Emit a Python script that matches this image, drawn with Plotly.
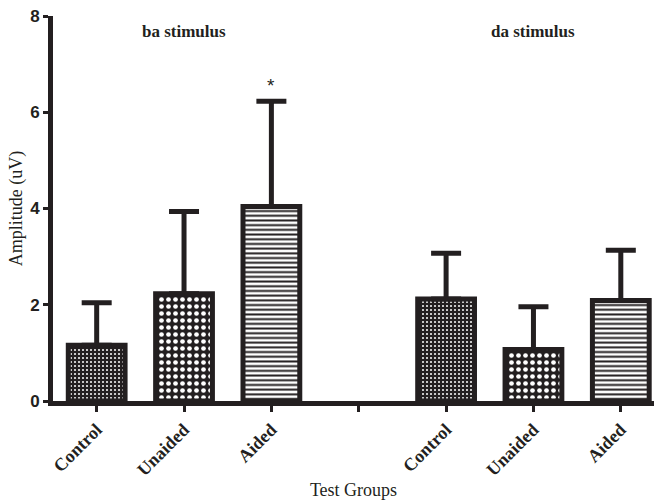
import plotly.graph_objects as go

# Mean amplitude and SD per test group, for each stimulus
stimuli = ["ba stimulus", "da stimulus"]
groups = ["Control", "Unaided", "Aided"]
ba_mean = [1.16, 2.23, 4.04]
ba_sd = [0.88, 1.71, 2.19]
da_mean = [2.12, 1.07, 2.09]
da_sd = [0.95, 0.89, 1.04]
significant = [("ba stimulus", "Aided")]

INK = "#231f20"
patterns = {
    "Control": dict(shape=".", fgcolor="white", bgcolor=INK, size=4, solidity=0.2, fillmode="replace"),
    "Unaided": dict(shape=".", fgcolor="white", bgcolor=INK, size=7, solidity=0.36, fillmode="replace"),
    "Aided": dict(shape="-", fgcolor=INK, bgcolor="white", size=4.7, solidity=0.42, fillmode="replace"),
}

means = {"ba stimulus": ba_mean, "da stimulus": da_mean}
sds = {"ba stimulus": ba_sd, "da stimulus": da_sd}
gap = len(groups) + 1  # one empty slot between the two stimulus blocks


def pos(si, gi):
    return si * gap + gi


fig = go.Figure()
for gi, g in enumerate(groups):
    xs = [pos(si, gi) for si in range(len(stimuli))]
    ys = [means[s][gi] for s in stimuli]
    es = [sds[s][gi] for s in stimuli]
    fig.add_trace(go.Bar(
        x=xs, y=ys, width=0.65, name=g,
        marker=dict(color=INK, pattern=patterns[g], line=dict(color=INK, width=5)),
        error_y=dict(type="data", symmetric=False, array=es, arrayminus=[0] * len(es),
                     color=INK, thickness=5, width=15),
        showlegend=False,
    ))

tickvals = list(range(gap * len(stimuli) - 1))
ticktext = []
for t in tickvals:
    ticktext.append(groups[t % gap] if t % gap < len(groups) else "")

annotations = []
for si, s in enumerate(stimuli):
    annotations.append(dict(
        x=pos(si, 1), y=0.96, xref="x", yref="paper", text=s, showarrow=False,
        font=dict(family="Liberation Serif", size=17, color=INK, weight="bold"),
        xanchor="center", yanchor="middle"))
for s, g in significant:
    si, gi = stimuli.index(s), groups.index(g)
    annotations.append(dict(
        x=pos(si, gi), y=means[s][gi] + sds[s][gi], xref="x", yref="y", text="*",
        showarrow=False, yshift=16, yanchor="middle",
        font=dict(family="Liberation Sans", size=19, color=INK)))

fig.update_layout(
    width=654, height=501,
    margin=dict(l=53, r=0, t=16, b=100),
    plot_bgcolor="white", paper_bgcolor="white",
    barmode="overlay",
    annotations=annotations,
    xaxis=dict(
        range=[-0.5, 6.38], tickmode="array", tickvals=tickvals, ticktext=ticktext,
        tickangle=-45, ticks="outside", ticklen=6, tickwidth=3, tickcolor=INK,
        showline=True, linewidth=5, linecolor=INK, showgrid=False, zeroline=False,
        tickfont=dict(family="Liberation Serif", size=18, color=INK, weight="bold"),
        title=dict(text="Test Groups", standoff=6,
                   font=dict(family="Liberation Serif", size=18, color=INK)),
    ),
    yaxis=dict(
        range=[0, 8], tickvals=[0, 2, 4, 6, 8], ticks="outside", ticklen=5, tickwidth=3,
        tickcolor=INK, showline=True, linewidth=5, linecolor=INK, showgrid=False,
        zeroline=False,
        tickfont=dict(family="Liberation Sans", size=17, color=INK, weight="bold"),
        title=dict(text="Amplitude (uV)", standoff=4,
                   font=dict(family="Liberation Serif", size=18, color=INK)),
    ),
)

fig.write_html("out.html")
